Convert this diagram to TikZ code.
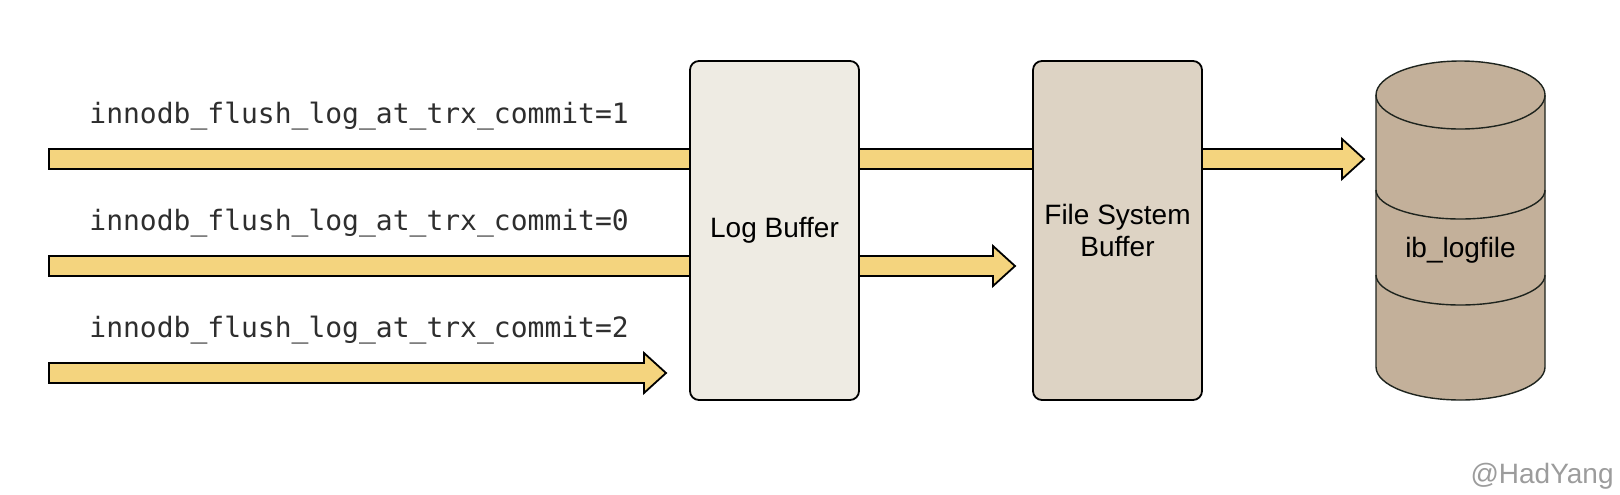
\documentclass[tikz,border=0pt]{standalone}
\usepackage{fontspec}
\setmainfont{Liberation Sans}
\newfontfamily\monof{DejaVu Sans Mono}
\usetikzlibrary{calc}
\definecolor{arrowfill}{HTML}{F4D47E}
\definecolor{logfill}{HTML}{EEEBE3}
\definecolor{fsfill}{HTML}{DDD3C4}
\definecolor{cylfill}{HTML}{C3B09A}
\definecolor{cyldraw}{HTML}{1E241E}
\definecolor{cmdtext}{HTML}{2E2E2E}
\definecolor{marktext}{HTML}{9C9C9C}
\newcommand\us{\char"5F\relax}
\newcommand\fatarrow[2]{%
  \draw[fat] let \p1=(#1), \p2=(#2) in
    (\x1,{\y1+5pt}) -- ({\x2-11pt},{\y1+5pt}) -- ({\x2-11pt},{\y1+10pt}) --
    (\x2,\y1) -- ({\x2-11pt},{\y1-10pt}) -- ({\x2-11pt},{\y1-5pt}) --
    (\x1,{\y1-5pt}) -- cycle;}
\begin{document}
\begin{tikzpicture}[x=0.5pt,y=0.5pt,
  fat/.style={draw=black, line width=0.9pt, fill=arrowfill, line join=miter},
  bufbox/.style={draw=black, line width=0.9pt, rounded corners=4.5pt,
    minimum width=84.5pt, minimum height=169.5pt, inner sep=0pt,
    font=\fontsize{14}{16}\selectfont, align=center},
  cmd/.style={anchor=base west, font=\monof\fontsize{14}{17}\selectfont,
    text=cmdtext, inner sep=0pt},
  cylline/.style={draw=cyldraw, line width=0.7pt},
]
\useasboundingbox (0,0) rectangle (1620,-494);

% labels
\node[cmd] (c1) at (89,-123) {innodb\us flush\us log\us at\us trx\us commit=1};
\node[cmd] (c0) at (89,-230) {innodb\us flush\us log\us at\us trx\us commit=0};
\node[cmd] (c2) at (89,-337) {innodb\us flush\us log\us at\us trx\us commit=2};

% arrow end points
\coordinate (s1) at (49,-159);
\coordinate (t1) at (1364,-159);
\coordinate (s0) at (49,-266);
\coordinate (t0) at (1015,-266);
\coordinate (s2) at (49,-373);
\coordinate (t2) at (666,-373);

\fatarrow{s1}{t1}
\fatarrow{s0}{t0}
\fatarrow{s2}{t2}

% buffers
\node[bufbox, fill=logfill] (log) at (774.5,-230.5) {Log Buffer};
\node[bufbox, fill=fsfill] (fs) at (1117.5,-230.5) {File System\\Buffer};

% cylinder
\node[minimum width=84.5pt, minimum height=170pt, inner sep=0pt] (cyl) at (1460.5,-231) {};
\fill[cylfill] (1376,-95) -- (1376,-367) arc (180:360:42.25pt and 16.5pt)
  -- (1545,-95) arc (0:180:42.25pt and 17pt) -- cycle;
\draw[cylline] (1376,-95) -- (1376,-367) arc (180:360:42.25pt and 16.5pt)
  -- (1545,-95) arc (0:180:42.25pt and 17pt);
\draw[cylline] (1376,-95) arc (180:360:42.25pt and 17pt);
\draw[cylline] (1376,-190) arc (180:360:42.25pt and 14.5pt);
\draw[cylline] (1376,-275) arc (180:360:42.25pt and 15pt);
\node[anchor=base, inner sep=0pt, font=\fontsize{14}{16}\selectfont] (cyltext) at (1460.5,-257) {ib\_logfile};

% watermark
\node[anchor=base east, inner sep=0pt, text=marktext, font=\fontsize{14}{16}\selectfont] (mark) at (1614,-483) {@HadYang};
\end{tikzpicture}
\end{document}
